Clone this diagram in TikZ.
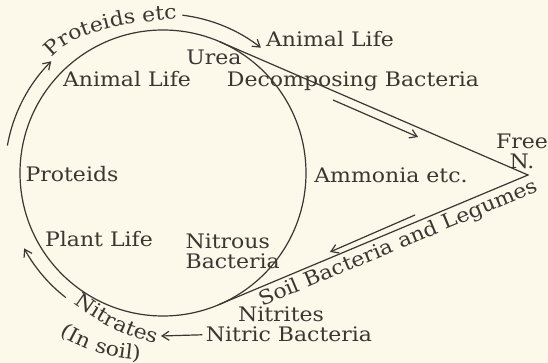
\documentclass[tikz,border=0pt]{standalone}
\usepackage{fontspec}
\setmainfont{DejaVu Serif}[FakeStretch=1.1]
\usetikzlibrary{arrows.meta,calc,decorations.text}
\definecolor{paper}{RGB}{252,248,234}
\definecolor{ink}{RGB}{58,54,50}
\newcommand{\lblfont}{\fontsize{10}{10}\selectfont}

\begin{document}
\begin{tikzpicture}[x=0.5pt,y=0.5pt,>={Straight Barb[length=3.5pt,width=4.5pt]},line width=0.6pt,color=ink,
		lbl/.style={font=\lblfont,inner sep=0pt,anchor=base},
		curvedlbl/.style={decorate,decoration={text along path,text align=center,text={|\lblfont\color{ink}|#1}}}]
			\fill [paper] (0,0) rectangle (548,-363);
			\useasboundingbox (0,0) rectangle (548,-363);

			\coordinate (hub) at (163,-173);
			\node (cycle) [circle, draw, inner sep=0pt, outer sep=0pt, minimum size=143pt] at (hub) {};
			\coordinate (freeVertex) at (528,-175);
			\draw (tangent cs:node=cycle,point={(freeVertex)},solution=1) -- (freeVertex) -- (tangent cs:node=cycle,point={(freeVertex)},solution=2);

			\node (animalOut) [lbl] at (330,-47) {Animal Life};
			\node (urea) [lbl] at (214,-65) {Urea};
			\node (animalIn) [lbl] at (127,-87) {Animal Life};
			\node (decomp) [lbl] at (353,-87) {Decomposing Bacteria};
			\node (proteids) [lbl] at (72,-182) {Proteids};
			\node (ammonia) [lbl] at (391,-183) {Ammonia etc.};
			\node (freeN) [lbl, anchor=north, align=center] at (522,-133) {Free\\N.};
			\node (plant) [lbl] at (99,-247) {Plant Life};
			\node (nitrous) [lbl, anchor=north west, align=left] at (185,-233) {Nitrous\\Bacteria};
			\node (nitrites) [lbl] at (281,-322) {Nitrites};
			\node (nitric) [lbl] at (289,-342) {Nitric Bacteria};

			\path (tangent cs:node=cycle,point={(freeVertex)},solution=2) -- (freeVertex)
				node (soil) [lbl, anchor=north, sloped, pos=0.565, yshift=-1.5pt] {Soil Bacteria and Legumes};

			\draw [->] ($(hub)+(170:158)$) arc [start angle=170, end angle=135, radius=158];
			\path [curvedlbl=Proteids etc] (50,-60) .. controls (64,-38) and (112,-22) .. (180,-19);
			\draw [->] ($(hub)+(83:159)$) arc [start angle=83, end angle=52, radius=159];

			\coordinate (downFrom) at (333,-100);
			\coordinate (downTo) at (418,-137);
			\draw [->] (downFrom) -- (downTo);
			\coordinate (upFrom) at (415,-215);
			\coordinate (upTo) at (330,-252);
			\draw [->] (upFrom) -- (upTo);

			\coordinate (nitratesTip) at (161,-336);
			\draw [->] ([xshift=-1.5pt]nitric.west) -- (nitratesTip);
			\path [curvedlbl=Nitrates] (70,-301) .. controls (95,-321) and (125,-337) .. (160,-345);
			\path [curvedlbl=(In soil)] (58,-334) .. controls (80,-348) and (105,-358) .. (142,-360);
			\draw [->] ($(hub)+(232:158)$) arc [start angle=232, end angle=208.5, radius=158];
		\end{tikzpicture}
\end{document}
